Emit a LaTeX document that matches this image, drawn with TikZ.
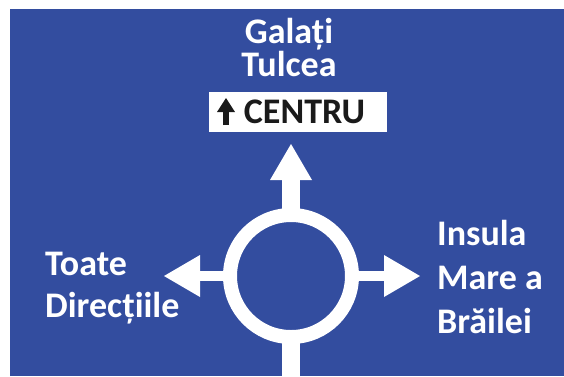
\documentclass[tikz,border=0pt]{standalone}
\usepackage{fontspec}
\setmainfont{Carlito}
\usetikzlibrary{arrows.meta,positioning}
\definecolor{signblue}{HTML}{334D9F}
\definecolor{signink}{HTML}{1A1A1A}
\tikzset{
  place/.style={font=\bfseries\fontsize{36}{42}\selectfont, text=white, align=left, inner sep=0pt},
  ringroad/.style={circle, draw=white, line width=14pt, minimum size=122pt, inner sep=0pt, outer sep=0pt},
  sidearrow/.style={draw=white, line width=10pt, -{Triangle[length=36pt, width=42pt, line width=0pt]}},
  mainarrow/.style={draw=white, line width=18pt, -{Triangle[length=36pt, width=42pt, line width=0pt]}},
  stem/.style={draw=white, line width=18pt},
  centrebox/.style={fill=white, minimum width=178pt, minimum height=40pt, inner xsep=22pt, inner ysep=0pt,
    text width=134pt, align=right, text=signink, font=\bfseries\fontsize{36}{36}\selectfont},
  blackarrow/.style={draw=signink, line width=6pt, -{Triangle[length=14pt, width=18pt, line width=0pt]}}
}

\begin{document}
\begin{tikzpicture}[x=1pt, y=-1pt]
  \useasboundingbox (0,0) rectangle (564,376);
  \fill[white] (0,0) rectangle (564,376);
  \fill[signblue] (10,9) rectangle (564,376);

  % roundabout
  \node[ringroad] (ring) at (291,276) {};
  \coordinate (northtip) at (291,144);
  \coordinate (westtip) at (164,276);
  \coordinate (easttip) at (420,276);
  \coordinate (southend) at (291,376);

  \draw[mainarrow] (ring.north) -- (northtip);
  \draw[sidearrow] (ring.west) -- (westtip);
  \draw[sidearrow] (ring.east) -- (easttip);
  \draw[stem] (ring.south) -- (southend);

  % destinations (base = last line)
  \node[place, align=center, font=\bfseries\fontsize{36}{33}\selectfont, anchor=base] (north) at (289,76) {Galați\\Tulcea};
  \node[centrebox] (centru) at (298,112) {CENTRU};
  \coordinate (centrufoot) at (226,125);
  \coordinate (centrutip) at (226,98);
  \draw[blackarrow] (centrufoot) -- (centrutip);

  \node[place, anchor=base west] (west) at (45,317) {Toate\\Direcțiile};
  \node[place, font=\bfseries\fontsize{36}{44}\selectfont, anchor=base west] (east) at (437,333) {Insula\\Mare a\\Brăilei};
\end{tikzpicture}
\end{document}
